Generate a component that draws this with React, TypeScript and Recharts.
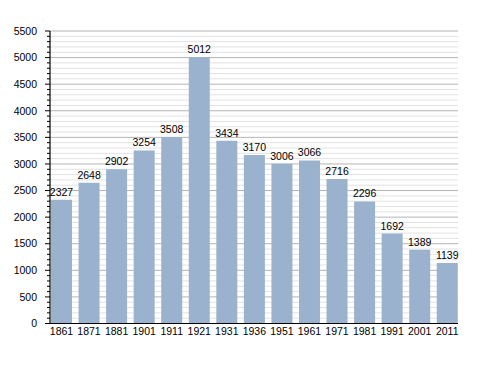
import { BarChart, Bar, XAxis, YAxis, CartesianGrid, LabelList } from 'recharts';

const YEARS = ['1861', '1871', '1881', '1901', '1911', '1921', '1931', '1936', '1951', '1961', '1971', '1981', '1991', '2001', '2011'];
const POPULATION = [2327, 2648, 2902, 3254, 3508, 5012, 3434, 3170, 3006, 3066, 2716, 2296, 1692, 1389, 1139];
const MAJOR_TICKS = [0, 500, 1000, 1500, 2000, 2500, 3000, 3500, 4000, 4500, 5000, 5500];
const MINOR_TICKS = [
  100, 200, 300, 400, 600, 700, 800, 900, 1100, 1200, 1300, 1400, 1600, 1700, 1800, 1900,
  2100, 2200, 2300, 2400, 2600, 2700, 2800, 2900, 3100, 3200, 3300, 3400, 3600, 3700, 3800, 3900,
  4100, 4200, 4300, 4400, 4600, 4700, 4800, 4900, 5100, 5200, 5300, 5400,
];
const ALL_TICKS = [...MAJOR_TICKS, ...MINOR_TICKS].sort((a, b) => a - b);

const data = YEARS.map((year, i) => ({ year, value: POPULATION[i] }));

const FONT = '"Liberation Sans", Arial, sans-serif';

function YTick(props: any) {
  const { x, y, payload } = props;
  const major = payload.value % 500 === 0;
  return (
    <g>
      <line x1={x - (major ? 5 : 3)} x2={x} y1={y} y2={y} stroke="#000" strokeWidth={1} />
      {major && (
        <text x={x - 13} y={y} dy="0.355em" textAnchor="end" fontSize={10.5} fill="#000" fontFamily={FONT}>
          {payload.value}
        </text>
      )}
    </g>
  );
}

export default function App() {
  return (
    <div style={{ position: 'absolute', left: 0, top: 0, width: 488, height: 373, background: '#fff' }}>
      <BarChart
        width={488}
        height={373}
        data={data}
        margin={{ top: 31, right: 30, bottom: 19.5, left: 0 }}
        barCategoryGap="12%"
      >
        <CartesianGrid horizontal vertical={false} horizontalValues={MINOR_TICKS} stroke="#e2e2e2" />
        <CartesianGrid horizontal vertical={false} horizontalValues={MAJOR_TICKS} stroke="#b4b4b4" />
        <XAxis
          dataKey="year"
          height={30}
          padding={{ left: -2.3, right: -3 }}
          axisLine={{ stroke: '#000', strokeWidth: 1.2 }}
          tickLine={false}
          tickSize={0}
          tickMargin={4}
          interval={0}
          tick={{ fontSize: 10.5, fill: '#000', fontFamily: FONT }}
        />
        <YAxis
          width={50}
          domain={[0, 5500]}
          ticks={ALL_TICKS}
          interval={0}
          axisLine={{ stroke: '#000', strokeWidth: 1.2 }}
          tickLine={false}
          tickSize={0}
          tickMargin={0}
          tick={<YTick />}
        />
        <Bar dataKey="value" fill="#9ab2cd" isAnimationActive={false}>
          <LabelList dataKey="value" position="top" offset={4} fontSize={10.5} fill="#000" fontFamily={FONT} />
        </Bar>
      </BarChart>
    </div>
  );
}
